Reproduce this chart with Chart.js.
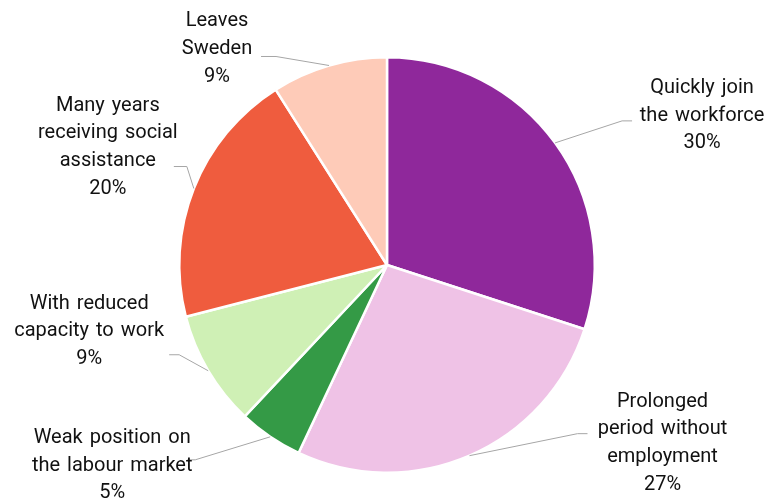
<!DOCTYPE html>
<html>
<head>
<meta charset="utf-8">
<script src="https://cdn.jsdelivr.net/npm/chart.js@4"></script>
<style>
  body { margin: 0; background: #fff; }
</style>
</head>
<body>
<canvas id="chart" width="768" height="499"></canvas>
<script>
const categories = [
  ["Quickly join", "the workforce"],
  ["Prolonged", "period without", "employment"],
  ["Weak position on", "the labour market"],
  ["With reduced", "capacity to work"],
  ["Many years", "receiving social", "assistance"],
  ["Leaves", "Sweden"]
];
const shares = [30, 27, 5, 9, 20, 9];
const colors = ["#8f289b", "#efc2e6", "#349a46", "#cff0b5", "#ef5c3e", "#fecbb8"];

// leader line elbow (from slice edge), tail length, text centre / first line offset from tail end
const labelLayout = [
  { elbow: [67, -22], tail: 10, text: [70, -33] },
  { elbow: [108, -22], tail: 10, text: [75, -32] },
  { elbow: [-75, 23], tail: -8, text: [-75, -22] },
  { elbow: [-29, -16], tail: -10, text: [-80, -51] },
  { elbow: [-7, -22], tail: -13, text: [-66, -61] },
  { elbow: [-53, -9], tail: -15, text: [-44, -35] }
];

const outsideLabels = {
  id: "outsideLabels",
  afterDatasetsDraw(chart) {
    const ctx = chart.ctx;
    const arcs = chart.getDatasetMeta(0).data;
    ctx.save();
    arcs.forEach((arc, i) => {
      const mid = (arc.startAngle + arc.endAngle) / 2;
      const px = arc.x + Math.cos(mid) * arc.outerRadius;
      const py = arc.y + Math.sin(mid) * arc.outerRadius;
      const lay = labelLayout[i];
      const ex = px + lay.elbow[0], ey = py + lay.elbow[1];
      const tx = ex + lay.tail;
      ctx.strokeStyle = "#a6a6a6";
      ctx.lineWidth = 1;
      ctx.beginPath();
      ctx.moveTo(px, py);
      ctx.lineTo(ex, ey);
      ctx.lineTo(tx, ey);
      ctx.stroke();

      const lines = categories[i].concat([shares[i] + "%"]);
      ctx.fillStyle = "#111";
      ctx.font = "20px Roboto";
      ctx.wordSpacing = "2px";
      ctx.textAlign = "center";
      ctx.textBaseline = "middle";
      const cx = tx + lay.text[0];
      let y = ey + lay.text[1];
      lines.forEach(l => {
        ctx.fillText(l, cx, y);
        y += 27.7;
      });
    });
    ctx.restore();
  }
};

new Chart(document.getElementById("chart"), {
  type: "pie",
  data: {
    labels: categories.map(c => c.join(" ")),
    datasets: [{
      data: shares,
      backgroundColor: colors,
      borderColor: "#ffffff",
      borderWidth: 2.5
    }]
  },
  options: {
    responsive: false,
    animation: false,
    layout: { padding: { left: 6, right: 0, top: 56, bottom: 25 } },
    plugins: {
      legend: { display: false },
      tooltip: { enabled: false }
    }
  },
  plugins: [outsideLabels]
});
</script>
</body>
</html>
